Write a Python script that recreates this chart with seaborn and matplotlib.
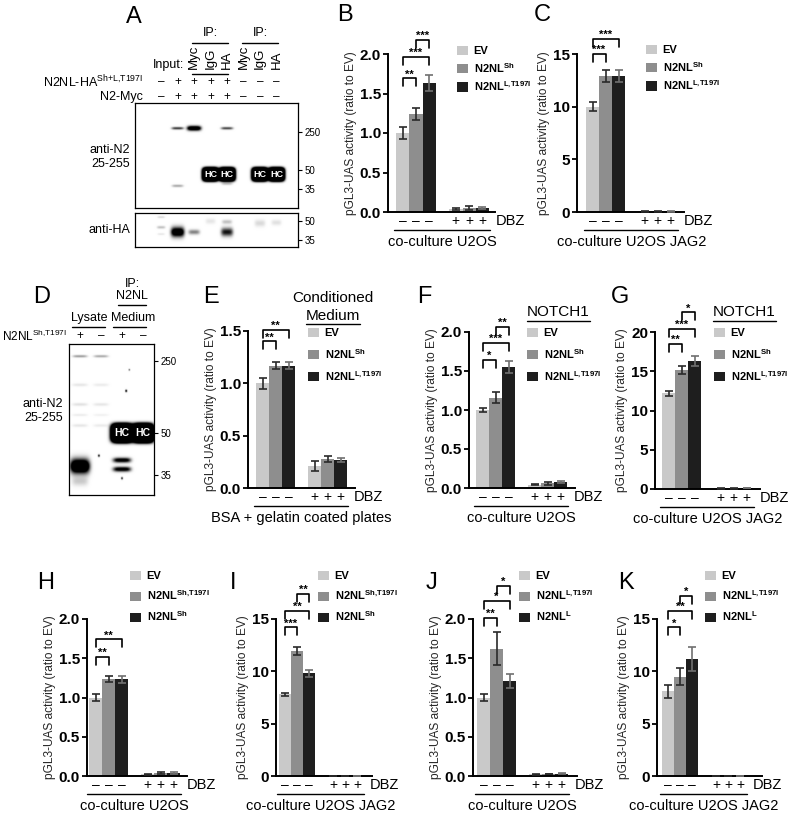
import numpy as np
import pandas as pd
import seaborn as sns
import matplotlib.pyplot as plt
import matplotlib.transforms as mtrans
from matplotlib.lines import Line2D

sns.set_theme(style="ticks")
plt.rcParams["font.family"] = ["Liberation Sans", "DejaVu Sans"]
plt.rcParams.update({
    "mathtext.fontset": "custom",
    "mathtext.rm": "Liberation Sans:bold",
    "mathtext.bf": "Liberation Sans:bold",
    "mathtext.sf": "Liberation Sans",
    "mathtext.it": "Liberation Sans:italic",
    "axes.edgecolor": "black",
    "text.color": "black",
    "ytick.color": "black",
    "xtick.color": "black",
})

# ---- legend labels
EV = "EV"
SH = r"N2NL$^{\mathrm{Sh}}$"
LT = r"N2NL$^{\mathrm{L{,}T197I}}$"
SHT = r"N2NL$^{\mathrm{Sh{,}T197I}}$"
LL = r"N2NL$^{\mathrm{L}}$"
bar_colors = ["#c9c9c9", "#8e8e8e", "#1e1e1e"]
err_colors = ["#2a2a2a", "#2a2a2a", "#707070"]

# ---- bar chart data (mean, SEM; first three without DBZ, last three with DBZ)
b_labels = [EV, SH, LT]
b_mean = [1.00, 1.24, 1.63, 0.04, 0.05, 0.05]
b_sem = [0.07, 0.08, 0.10, 0.01, 0.02, 0.01]
b_sig = [(0, 1, 1.69, "**"), (0, 2, 1.96, "***"), (1, 2, 2.18, "***")]

c_labels = [EV, SH, LT]
c_mean = [10.0, 12.9, 12.9, 0.05, 0.05, 0.05]
c_sem = [0.45, 0.55, 0.6, 0.02, 0.02, 0.02]
c_sig = [(0, 1, 15.0, "***"), (0, 2, 16.4, "***")]

e_labels = [EV, SH, LT]
e_mean = [1.00, 1.17, 1.17, 0.21, 0.28, 0.27]
e_sem = [0.05, 0.03, 0.03, 0.05, 0.03, 0.02]
e_sig = [(0, 1, 1.40, "**"), (0, 2, 1.51, "**")]

f_labels = [EV, SH, LT]
f_mean = [1.00, 1.16, 1.55, 0.04, 0.06, 0.08]
f_sem = [0.02, 0.07, 0.08, 0.005, 0.02, 0.01]
f_sig = [(0, 1, 1.64, "*"), (0, 2, 1.86, "***"), (1, 2, 2.07, "**")]

g_labels = [EV, SH, LT]
g_mean = [12.2, 15.2, 16.3, 0.05, 0.05, 0.1]
g_sem = [0.3, 0.5, 0.6, 0.02, 0.02, 0.03]
g_sig = [(0, 1, 18.5, "**"), (0, 2, 20.4, "***"), (1, 2, 22.5, "*")]

h_labels = [EV, SHT, SH]
h_mean = [1.00, 1.24, 1.23, 0.02, 0.04, 0.035]
h_sem = [0.04, 0.04, 0.04, 0.005, 0.01, 0.01]
h_sig = [(0, 1, 1.52, "**"), (0, 2, 1.74, "**")]

i_labels = [EV, SHT, SH]
i_mean = [7.8, 11.95, 9.8, 0.02, 0.02, 0.02]
i_sem = [0.15, 0.4, 0.35, 0.01, 0.01, 0.01]
i_sig = [(0, 1, 14.2, "***"), (0, 2, 15.8, "**"), (1, 2, 17.4, "**")]

j_labels = [EV, LT, LL]
j_mean = [1.00, 1.62, 1.21, 0.02, 0.025, 0.03]
j_sem = [0.04, 0.21, 0.09, 0.005, 0.005, 0.01]
j_sig = [(0, 1, 2.01, "**"), (0, 2, 2.23, "*"), (1, 2, 2.42, "*")]

k_labels = [EV, LT, LL]
k_mean = [8.1, 9.5, 11.2, 0.03, 0.03, 0.03]
k_sem = [0.6, 0.8, 1.15, 0.01, 0.01, 0.01]
k_sig = [(0, 1, 14.2, "*"), (0, 2, 15.8, "**"), (1, 2, 17.2, "*")]

ratio_ticks = [0.0, 0.5, 1.0, 1.5, 2.0]
ratio_ticks_e = [0.0, 0.5, 1.0, 1.5]
fold_ticks = [0, 5, 10, 15]
fold_ticks_g = [0, 5, 10, 15, 20]

# ---- western blot bands: lane, migration (0 top - 1 bottom), intensity, half width, half height
a1_lane = [2, 3, 5, 2, 5]
a1_mig = [0.24, 0.24, 0.24, 0.79, 0.77]
a1_int = [0.8, 1.6, 0.75, 0.35, 0.25]
a1_w = [0.36, 0.42, 0.36, 0.34, 0.32]
a1_h = [0.012, 0.022, 0.012, 0.012, 0.012]
a1_hc = [4, 5, 7, 8]
a1_marks = [0.28, 0.64, 0.82]
a1_mark_labels = ["250", "50", "35"]

a2_lane = [2, 3, 5, 5, 4, 7, 8, 1, 1, 1]
a2_mig = [0.56, 0.56, 0.56, 0.26, 0.24, 0.30, 0.28, 0.12, 0.42, 0.62]
a2_int = [1.5, 0.5, 0.95, 0.25, 0.1, 0.15, 0.12, 0.15, 0.25, 0.1]
a2_w = [0.4, 0.34, 0.36, 0.3, 0.3, 0.32, 0.3, 0.22, 0.25, 0.22]
a2_h = [0.14, 0.07, 0.12, 0.06, 0.08, 0.1, 0.08, 0.03, 0.04, 0.03]
a2_marks = [0.24, 0.79]
a2_mark_labels = ["50", "35"]

a_lane_names = ["Myc", "IgG", "HA", "Myc", "IgG", "HA"]
a_row1 = ["–", "+", "+", "+", "+", "–", "–", "–"]
a_row2 = ["–", "+", "+", "+", "+", "–", "–", "–"]

d_lane = [1, 1, 1, 2, 1, 2, 1, 2, 1, 2, 1, 2, 3, 3, 3.2, 3.35, 1.9, 3.0]
d_mig = [0.81, 0.91, 0.08, 0.08, 0.27, 0.27, 0.40, 0.40, 0.47, 0.47, 0.54, 0.54,
         0.77, 0.83, 0.31, 0.17, 0.74, 0.89]
d_int = [2.0, 0.2, 0.4, 0.35, 0.1, 0.08, 0.12, 0.1, 0.08, 0.06, 0.1, 0.08,
         1.2, 1.2, 1.0, 0.6, 0.9, 0.8]
d_w = [0.45, 0.38, 0.34, 0.34, 0.36, 0.36, 0.36, 0.36, 0.36, 0.36, 0.36, 0.36,
       0.42, 0.42, 0.05, 0.04, 0.05, 0.05]
d_h = [0.045, 0.03, 0.008, 0.008, 0.01, 0.01, 0.01, 0.01, 0.008, 0.008, 0.01, 0.01,
       0.016, 0.016, 0.008, 0.006, 0.008, 0.008]
d_hc = [3, 4]
d_marks = [0.11, 0.59, 0.87]
d_mark_labels = ["250", "50", "35"]
d_signs = ["+", "–", "+", "–"]

W, H = 800, 827
fig = plt.figure(figsize=(8, 8.27), dpi=100)
renderer = fig.canvas.get_renderer()


def fy(y):
    return 1 - y / H


def px_ax(l, t, r, b):
    return fig.add_axes([l / W, 1 - b / H, (r - l) / W, (b - t) / H])


def lane_trans(ax):
    return mtrans.blended_transform_factory(ax.transData, fig.transFigure)


def underline(txt, y, lw=1.0):
    bb = txt.get_window_extent(renderer)
    fig.add_artist(Line2D([bb.x0 / W, bb.x1 / W], [fy(y)] * 2, color="black", lw=lw))


def bar_panel(geom, labels, means, sems, sigs, yticks, xlabel, leg_xy, leg_space):
    l, start, bw, r, t, b = geom
    ax = px_ax(l, t, r, b)
    signs = ["–"] * 3 + ["+"] * 3
    slots = [f"{s}{i}" for i, s in enumerate(signs)]
    order = slots[:3] + ["gap"] + slots[3:]
    df = pd.DataFrame({"slot": slots, "construct": labels * 2, "activity": means})
    sns.barplot(data=df, x="slot", y="activity", hue="construct", order=order,
                hue_order=labels, palette=bar_colors, dodge=False, width=1,
                saturation=1, errorbar=None, linewidth=0, ax=ax)
    pos = [order.index(s) for s in slots]
    for x, m, e, c in zip(pos, means, sems, err_colors * 2):
        ax.errorbar(x, m, yerr=e, fmt="none", ecolor=c, elinewidth=1.2,
                    capsize=3, capthick=1.2, zorder=3, clip_on=False)
    top = yticks[-1]
    ppu = (b - t) / top
    ax.set_xlim(-0.5 - (start - l) / bw, -0.5 + (r - start) / bw)
    ax.set_ylim(0, top)
    ax.set_xticks([])
    ax.set_xlabel("")
    fmt = [f"{v:.1f}" if top <= 2 else f"{v:g}" for v in yticks]
    ax.set_yticks(yticks, fmt, fontweight="bold")
    ax.tick_params(axis="y", length=3.5, width=1.3, pad=1.5, labelsize=11)
    ax.set_ylabel("pGL3-UAS activity (ratio to EV)", fontsize=8.6, labelpad=2)
    for side in ["top", "right"]:
        ax.spines[side].set_visible(False)
    ax.spines["left"].set_bounds(0, top)
    ax.spines["left"].set_linewidth(1.4)
    ax.spines["bottom"].set_linewidth(1.4)

    leg = 8 / ppu
    for i, j, y, star in sigs:
        xi, xj = pos[i], pos[j]
        ax.plot([xi, xi, xj, xj], [y - leg, y, y, y - leg], color="black",
                lw=1.2, clip_on=False)
        ax.text((xi + xj) / 2, y + 1 / ppu, star, ha="center", va="baseline",
                fontsize=8, fontweight="bold", clip_on=False)

    tr = lane_trans(ax)
    for x, s in zip(pos, signs):
        ax.text(x, fy(b + 9), s, transform=tr, ha="center", va="center", fontsize=10)
    ax.text(6.5 + 7 / bw, fy(b + 9), "DBZ", transform=tr, ha="left",
            va="center", fontsize=10.5)
    ax.add_line(Line2D([-0.65, 6.6], [fy(b + 18)] * 2, transform=tr,
                       color="black", lw=1.0, clip_on=False))
    ax.text(3, fy(b + 30), xlabel, transform=tr, ha="center", va="center",
            fontsize=10.5)

    old = ax.get_legend()
    handles = old.legend_handles
    names = [tx.get_text() for tx in old.get_texts()]
    old.remove()
    ax.legend(handles, names, loc="upper left",
              bbox_to_anchor=(leg_xy[0] / W, fy(leg_xy[1])),
              bbox_transform=fig.transFigure, frameon=False,
              prop={"weight": "bold", "size": 8}, handlelength=1.0,
              handleheight=0.9, handletextpad=0.5, labelspacing=leg_space,
              borderpad=0, borderaxespad=0)
    return ax


def blot(rect, xlim, lane, mig, inten, wid, hgt, hc_lanes, hc_mig, hc_w, hc_h,
         hc_size, marks, mark_labels):
    l, t, r, b = rect
    ax = px_ax(l, t, r, b)
    gx = np.linspace(xlim[0], xlim[1], 500)
    gy = np.linspace(0, 1, 400)
    X, Y = np.meshgrid(gx, gy)
    dens = np.zeros_like(X)
    for ln, mg, it, w, h in zip(lane, mig, inten, wid, hgt):
        dens += it * np.exp(-np.abs((X - ln) / w) ** 4 - ((Y - mg) / h) ** 2)
    for ln in hc_lanes:
        dens += 6 * np.exp(-np.abs((X - ln) / hc_w) ** 4
                           - np.abs((Y - hc_mig) / hc_h) ** 4)
    ax.imshow(1 - np.clip(dens, 0, 1), cmap="gray", vmin=0, vmax=1,
              extent=(xlim[0], xlim[1], 1, 0), aspect="auto",
              interpolation="bilinear")
    for ln in hc_lanes:
        ax.text(ln, hc_mig, "HC", color="white", ha="center", va="center",
                fontsize=hc_size, fontweight="bold")
    ax.set_xlim(*xlim)
    ax.set_ylim(1, 0)
    ax.set_xticks([])
    ax.yaxis.tick_right()
    ax.set_yticks(marks, mark_labels)
    ax.tick_params(axis="y", length=3, width=0.8, labelsize=7, pad=1.5)
    for s in ax.spines.values():
        s.set_visible(True)
        s.set_linewidth(0.9)
        s.set_color("black")
    return ax


# ---------------- panel A
ax_a1 = blot((135, 103, 298, 208), (-0.58, 9.3), a1_lane, a1_mig, a1_int, a1_w,
             a1_h, a1_hc, 0.68, 0.45, 0.06, 6.5, a1_marks, a1_mark_labels)
ax_a2 = blot((135, 213, 298, 247), (-0.58, 9.3), a2_lane, a2_mig, a2_int, a2_w,
             a2_h, [], 0.5, 0.45, 0.06, 6.5, a2_marks, a2_mark_labels)
tr = lane_trans(ax_a1)
for ln, name in zip(range(3, 9), a_lane_names):
    fig.text(ln, fy(69), name, transform=tr, rotation=90, ha="center",
             va="bottom", fontsize=9.5)
fig.text(1.45, fy(65), "Input:", transform=tr, ha="center", va="center", fontsize=9)
for c in (4, 7):
    fig.text(c, fy(33), "IP:", transform=tr, ha="center", va="center", fontsize=9)
    fig.add_artist(Line2D([c - 1.12, c + 1.06], [fy(43)] * 2, transform=tr,
                          color="black", lw=1.0))
fig.add_artist(Line2D([2.88, 5.06], [fy(74)] * 2, transform=tr, color="black", lw=1.0))
fig.text(143 / W, fy(82), r"N2NL-HA$^{\mathsf{Sh{+}L{,}T197I}}$", ha="right",
         va="center", fontsize=9)
fig.text(143 / W, fy(97), "N2-Myc", ha="right", va="center", fontsize=9)
for ln, s1, s2 in zip(range(1, 9), a_row1, a_row2):
    fig.text(ln, fy(82), s1, transform=tr, ha="center", va="center", fontsize=8.5)
    fig.text(ln, fy(97), s2, transform=tr, ha="center", va="center", fontsize=8.5)
fig.text(130 / W, fy(157), "anti-N2\n25-255", ha="right", va="center",
         fontsize=9, linespacing=1.2)
fig.text(130 / W, fy(230), "anti-HA", ha="right", va="center", fontsize=9)

# ---------------- panel D
ax_d = blot((69, 344, 154, 495), (0.48, 4.52), d_lane, d_mig, d_int, d_w, d_h,
            d_hc, 0.59, 0.48, 0.058, 7.5, d_marks, d_mark_labels)
tr = lane_trans(ax_d)
fig.text(3.48, fy(284), "IP:", transform=tr, ha="center", va="center", fontsize=9)
fig.text(3.48, fy(296), "N2NL", transform=tr, ha="center", va="center", fontsize=9)
fig.add_artist(Line2D([2.81, 4.14], [fy(305)] * 2, transform=tr, color="black", lw=1.0))
fig.text(1.45, fy(318), "Lysate", transform=tr, ha="center", va="center", fontsize=9)
fig.text(3.55, fy(318), "Medium", transform=tr, ha="center", va="center", fontsize=9)
fig.add_artist(Line2D([0.62, 2.19], [fy(327)] * 2, transform=tr, color="black", lw=1.0))
fig.add_artist(Line2D([2.57, 4.14], [fy(327)] * 2, transform=tr, color="black", lw=1.0))
fig.text(67 / W, fy(336), r"N2NL$^{\mathsf{Sh{,}T197I}}$", ha="right", va="center",
         fontsize=8.5)
for ln, s in zip(range(1, 5), d_signs):
    fig.text(ln, fy(336), s, transform=tr, ha="center", va="center", fontsize=8.5)
fig.text(63 / W, fy(411), "anti-N2\n25-255", ha="right", va="center",
         fontsize=9, linespacing=1.2)

# ---------------- bar panels (geometry in px: axis left, first bar, bar width, axis right, top, bottom)
bar_panel((388, 396, 13.3, 495, 54, 212), b_labels, b_mean, b_sem, b_sig,
          ratio_ticks, "co-culture U2OS", (457, 46), 0.4)
bar_panel((577, 586, 13.0, 684, 54, 212), c_labels, c_mean, c_sem, c_sig,
          fold_ticks, "co-culture U2OS JAG2", (646, 45), 0.4)
bar_panel((248, 256, 13.0, 355, 331, 488), e_labels, e_mean, e_sem, e_sig,
          ratio_ticks_e, "BSA + gelatin coated plates", (308, 328), 0.75)
bar_panel((469, 476, 13.0, 575, 332, 488), f_labels, f_mean, f_sem, f_sig,
          ratio_ticks, "co-culture U2OS", (527, 328), 0.75)
bar_panel((655, 662, 13.0, 760, 332, 489), g_labels, g_mean, g_sem, g_sig,
          fold_ticks_g, "co-culture U2OS JAG2", (714, 328), 0.75)
bar_panel((87, 89, 13.0, 187, 619, 776), h_labels, h_mean, h_sem, h_sig,
          ratio_ticks, "co-culture U2OS", (130, 571), 0.65)
bar_panel((276, 279, 12.0, 372, 619, 776), i_labels, i_mean, i_sem, i_sig,
          fold_ticks, "co-culture U2OS JAG2", (318, 571), 0.65)
bar_panel((473, 477, 13.0, 577, 619, 776), j_labels, j_mean, j_sem, j_sig,
          ratio_ticks, "co-culture U2OS", (519, 571), 0.65)
bar_panel((657, 662, 12.0, 762, 619, 776), k_labels, k_mean, k_sem, k_sig,
          fold_ticks, "co-culture U2OS JAG2", (705, 571), 0.65)

# titles above legends
fig.text(333 / W, fy(298), "Conditioned", ha="center", va="center", fontsize=11)
t_med = fig.text(333 / W, fy(316), "Medium", ha="center", va="center", fontsize=11)
underline(t_med, 324)
for x in (527, 713):
    t_n = fig.text(x / W, fy(312), "NOTCH1", ha="left", va="center", fontsize=11)
    underline(t_n, 321)

# panel letters
letters = {"A": (134, 17), "B": (345, 15), "C": (542, 15), "D": (42, 297),
           "E": (211, 297), "F": (424, 297), "G": (620, 297), "H": (46, 583),
           "I": (233, 583), "J": (432, 583), "K": (626, 583)}
for k, (x, y) in letters.items():
    fig.text(x / W, fy(y), k, ha="center", va="center", fontsize=17)

fig.savefig("out.png", dpi=100)
